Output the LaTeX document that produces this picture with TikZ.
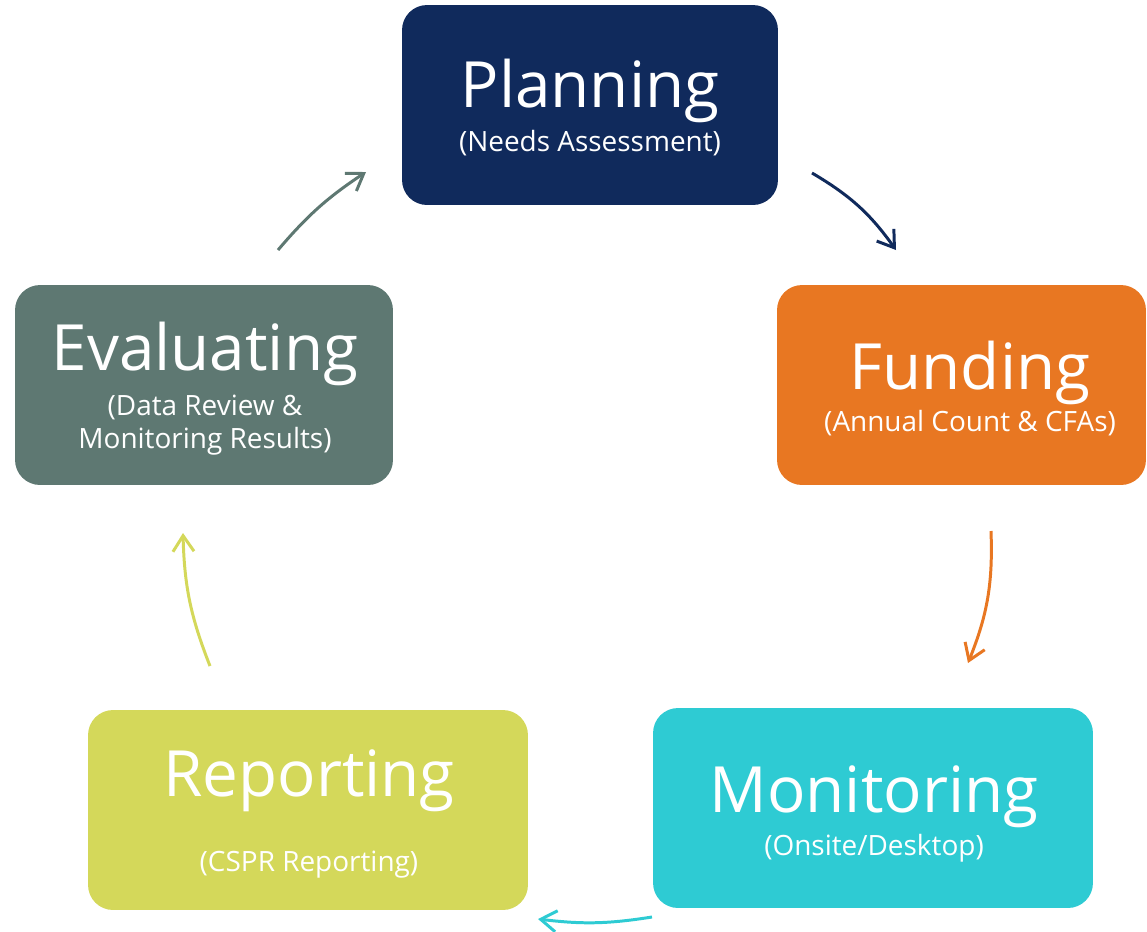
\documentclass[tikz,border=0pt]{standalone}
\usepackage{fontspec}
\setmainfont{Open Sans}
\usetikzlibrary{arrows.meta}
\definecolor{plannavy}{HTML}{102A5C}
\definecolor{fundorange}{HTML}{E87722}
\definecolor{moncyan}{HTML}{2ECBD3}
\definecolor{replime}{HTML}{D4D85A}
\definecolor{evalslate}{HTML}{5E7872}
\begin{document}
\begin{tikzpicture}[x=0.02cm,y=-0.02cm,
    box/.style={rounded corners=0.5cm,minimum height=4cm,inner sep=0pt},
    title/.style={text=white,anchor=base,inner sep=0pt,font=\fontsize{36.3}{40}\selectfont},
    sub/.style={text=white,anchor=base,inner sep=0pt,font=\fontsize{15.9}{19}\selectfont},
    arr/.style={line width=1.7pt,-{Straight Barb[length=9pt,width=12pt]}}]
    \useasboundingbox (0,0) rectangle (1147,931);
    % the five boxes
    \node[box,fill=plannavy,minimum width=7.52cm] (plan) at (590,105) {};
    \node[box,fill=fundorange,minimum width=7.38cm] (fund) at (961.5,385) {};
    \node[box,fill=moncyan,minimum width=8.8cm] (mon) at (873,808) {};
    \node[box,fill=replime,minimum width=8.8cm] (rep) at (308,810) {};
    \node[box,fill=evalslate,minimum width=7.56cm] (eval) at (204,385) {};
    % texts
    \node[title] (plan-t) at (590,107) {Planning};
    \node[sub] (plan-s) at (590,151) {(Needs Assessment)};
    \node[title] (fund-t) at (970,389) {Funding};
    \node[sub] (fund-s) at (970,431) {(Annual Count \& CFAs)};
    \node[title] (mon-t) at (874,812) {Monitoring};
    \node[sub] (mon-s) at (874,855) {(Onsite/Desktop)};
    \node[title] (rep-t) at (309,796) {Reporting};
    \node[sub] (rep-s) at (309,871) {(CSPR Reporting)};
    \node[title] (eval-t) at (205,370) {Evaluating};
    \node[sub] (eval-s1) at (205,415) {(Data Review \&};
    \node[sub] (eval-s2) at (205,448) {Monitoring Results)};
    % arrow ends
    \coordinate (a1) at (812,173);
    \coordinate (b1) at (896,250);
    \coordinate (a2) at (991,531);
    \coordinate (b2) at (968,663);
    \coordinate (a3) at (652,917);
    \coordinate (b3) at (538,919);
    \coordinate (a4) at (210,666);
    \coordinate (b4) at (183,533);
    \coordinate (a5) at (278,250);
    \coordinate (b5) at (366,172);
    \draw[arr,plannavy] (a1) to[bend left=12] (b1);
    \draw[arr,fundorange] (a2) to[bend left=12] (b2);
    \draw[arr,moncyan] (a3) to[bend left=8] (b3);
    \draw[arr,replime] (a4) to[bend left=10] (b4);
    \draw[arr,evalslate] (a5) to[bend left=8] (b5);
\end{tikzpicture}
\end{document}
